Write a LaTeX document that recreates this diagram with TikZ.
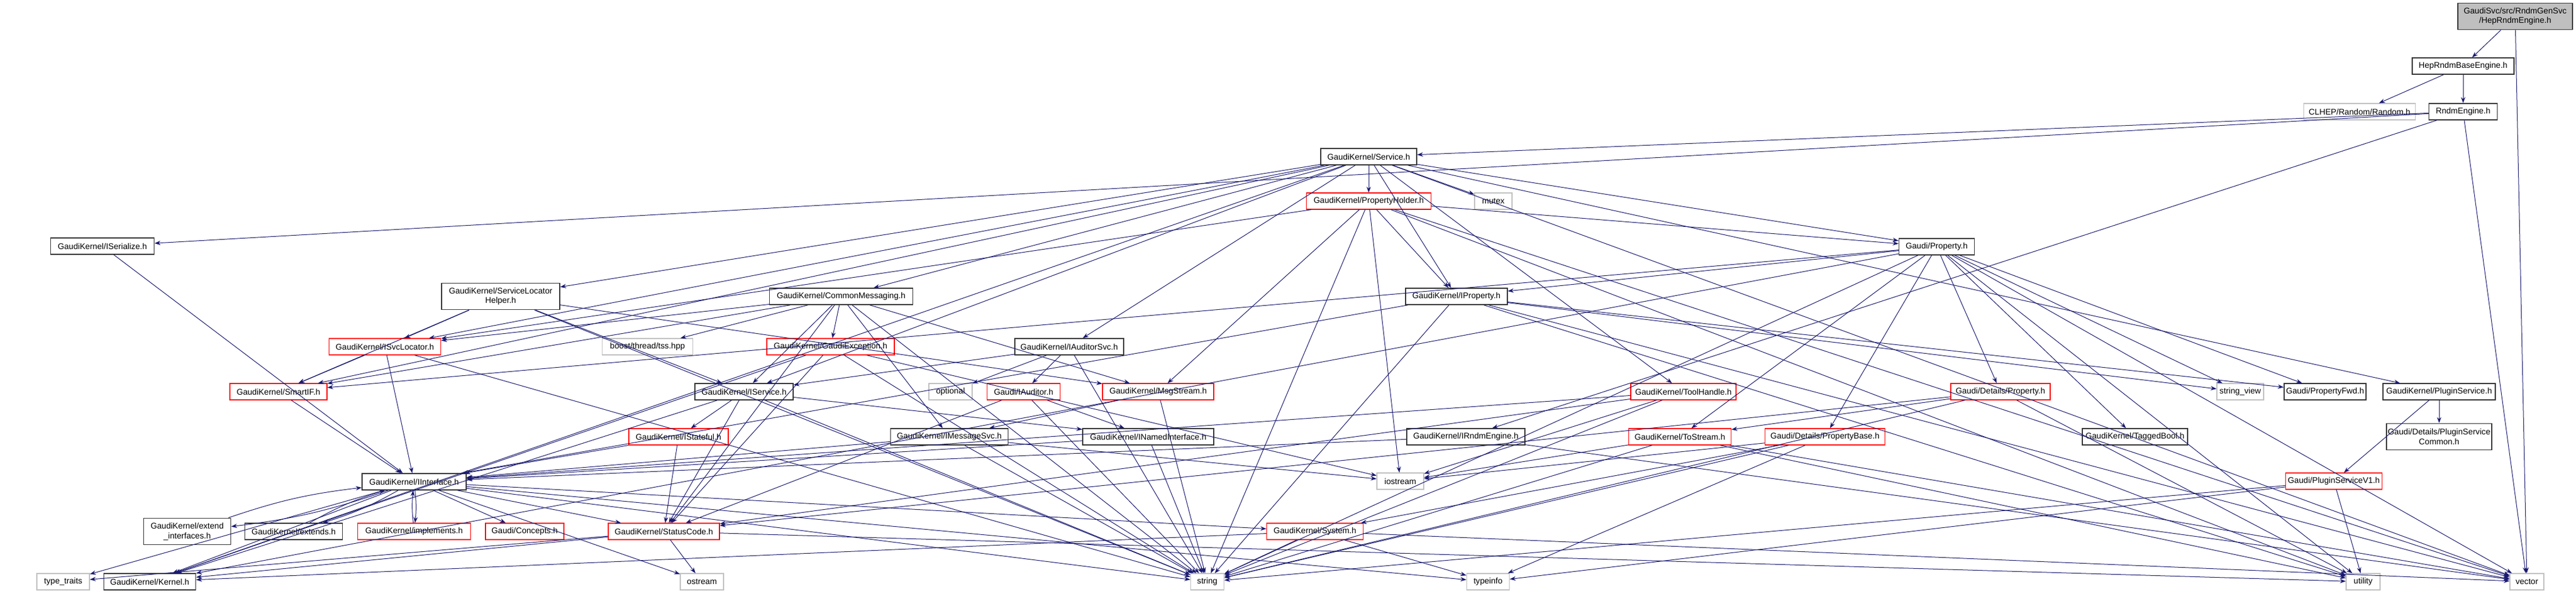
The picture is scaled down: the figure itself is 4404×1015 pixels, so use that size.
\documentclass[tikz,border=0pt]{standalone}
\usepackage{fontspec}
\setmainfont{Liberation Sans}
\usetikzlibrary{arrows.meta}
\definecolor{edgec}{HTML}{191970}
\definecolor{grayb}{HTML}{BFBFBF}
\definecolor{redb}{HTML}{FF0000}
\definecolor{rootf}{HTML}{BFBFBF}
\tikzset{
 nd/.style={draw=black!80, line width=1.1pt, fill=white, rectangle, inner sep=0pt, minimum height=21pt, font=\fontsize{10.6}{12.5}\selectfont, align=center},
 rd/.style={nd, draw=redb, line width=0.9pt},
 gy/.style={nd, draw=grayb, line width=0.9pt},
 bw/.style={minimum width=#1*0.75pt},
 two/.style={minimum height=34pt},
 edge/.style={draw=edgec, line width=0.75pt, -{Stealth[length=7.5pt,width=5.5pt]}},
}
\begin{document}
\begin{tikzpicture}[x=0.75pt,y=-0.75pt]
\useasboundingbox (0,0) rectangle (4404,1015);
% rank 0-3
\node[nd,two,bw=196,fill=rootf] (hep) at (4300,28) {GaudiSvc/src/RndmGenSvc\\/HepRndmEngine.h};
\node[nd,bw=174] (base) at (4211,113) {HepRndmBaseEngine.h};
\node[gy,bw=191] (clhep) at (4034,191) {CLHEP/Random/Random.h};
\node[nd,bw=117] (rndm) at (4211,191) {RndmEngine.h};
\node[nd,bw=164] (service) at (2340,268) {GaudiKernel/Service.h};
% rank 4-6
\node[rd,bw=213] (pholder) at (2340,344) {GaudiKernel/PropertyHolder.h};
\node[gy,bw=64] (mutex) at (2553,344) {mutex};
\node[nd,bw=129] (prop) at (3311,422) {Gaudi/Property.h};
\node[nd,bw=177] (iser) at (175,421) {GaudiKernel/ISerialize.h};
\node[nd,two,bw=202] (slh) at (856,507) {GaudiKernel/ServiceLocator\\Helper.h};
\node[nd,bw=245] (cmsg) at (1438,507) {GaudiKernel/CommonMessaging.h};
\node[nd,bw=174] (iprop) at (2490,507) {GaudiKernel/IProperty.h};
% rank 7
\node[rd,bw=191] (isvcloc) at (658,593) {GaudiKernel/ISvcLocator.h};
\node[gy,bw=155] (tss) at (1107,593) {boost/thread/tss.hpp};
\node[rd,bw=218] (gexc) at (1420,593) {GaudiKernel/GaudiException.h};
\node[nd,bw=186] (iaudsvc) at (1828,593) {GaudiKernel/IAuditorSvc.h};
% rank 8
\node[rd,bw=166] (smartif) at (476,670) {GaudiKernel/SmartIF.h};
\node[nd,bw=168] (iservice) at (1272,670) {GaudiKernel/IService.h};
\node[gy,bw=74] (optional) at (1625,670) {optional};
\node[rd,bw=125] (iauditor) at (1750,670) {Gaudi/IAuditor.h};
\node[rd,bw=190] (msgstream) at (1980,670) {GaudiKernel/MsgStream.h};
\node[rd,bw=180] (toolh) at (2878,670) {GaudiKernel/ToolHandle.h};
\node[rd,bw=170] (dprop) at (3420,670) {Gaudi/Details/Property.h};
\node[gy,bw=80] (strview) at (3830,670) {string\_view};
\node[nd,bw=140] (propfwd) at (3975,670) {Gaudi/PropertyFwd.h};
\node[nd,bw=192] (plugin) at (4170,670) {GaudiKernel/PluginService.h};
% rank 9
\node[rd,bw=170] (istateful) at (1160,747) {GaudiKernel/IStateful.h};
\node[nd,bw=201] (imsgsvc) at (1623,747) {GaudiKernel/IMessageSvc.h};
\node[nd,bw=224] (inamed) at (1963,747) {GaudiKernel/INamedInterface.h};
\node[nd,bw=202] (irndm) at (2506,747) {GaudiKernel/IRndmEngine.h};
\node[rd,bw=175] (tostream) at (2872,747) {GaudiKernel/ToStream.h};
\node[rd,bw=205] (pbase) at (3120,747) {Gaudi/Details/PropertyBase.h};
\node[nd,bw=180] (tagged) at (3650,747) {GaudiKernel/TaggedBool.h};
\node[nd,two,bw=180] (pscommon) at (4170,747) {Gaudi/Details/PluginService\\Common.h};
% rank 10
\node[nd,bw=178] (iinterface) at (708,824) {GaudiKernel/IInterface.h};
\node[gy,bw=80] (iostream) at (2394,823) {iostream};
\node[rd,bw=165] (psv1) at (3990,823) {Gaudi/PluginServiceV1.h};
% rank 11
\node[nd,two,bw=149] (extif) at (320,909) {GaudiKernel/extend\\\_interfaces.h};
\node[nd,bw=167] (extends) at (502,909) {GaudiKernel/extends.h};
\node[rd,bw=193] (implements) at (708,909) {GaudiKernel/implements.h};
\node[rd,bw=134] (concepts) at (897,909) {Gaudi/Concepts.h};
\node[rd,bw=190] (statuscode) at (1135,909) {GaudiKernel/StatusCode.h};
\node[rd,bw=165] (system) at (2248,909) {GaudiKernel/System.h};
% rank 12
\node[gy,bw=90] (typetraits) at (108,995) {type\_traits};
\node[nd,bw=157] (kernel) at (256,995) {GaudiKernel/Kernel.h};
\node[gy,bw=74] (ostream) at (1200,995) {ostream};
\node[gy,bw=57] (string) at (2064,995) {string};
\node[gy,bw=73] (typeinfo) at (2544,995) {typeinfo};
\node[gy,bw=58] (utility) at (4040,995) {utility};
\node[gy,bw=58] (vector) at (4320,995) {vector};
% edges
\foreach \a/\b in {hep/base,hep/vector,base/clhep,base/rndm,
 rndm/service,rndm/iser,rndm/irndm,rndm/vector,
 service/pholder,service/mutex,service/prop,service/iprop,service/cmsg,service/slh,service/isvcloc,service/smartif,service/iservice,service/iaudsvc,service/toolh,service/plugin,service/vector,service/kernel,
 pholder/prop,pholder/iprop,pholder/isvcloc,pholder/msgstream,pholder/string,pholder/iostream,pholder/utility,pholder/vector,
 iser/iinterface,
 prop/iprop,prop/smartif,prop/dprop,prop/pbase,prop/propfwd,prop/tagged,prop/tostream,prop/kernel,prop/string,prop/strview,prop/utility,prop/vector,
 iprop/iinterface,iprop/string,iprop/strview,iprop/utility,iprop/vector,iprop/propfwd,
 slh/isvcloc,slh/smartif,slh/msgstream,slh/iservice,slh/string,
 cmsg/isvcloc,cmsg/smartif,cmsg/tss,cmsg/gexc,cmsg/iservice,cmsg/imsgsvc,cmsg/msgstream,cmsg/string,cmsg/statuscode,
 isvcloc/smartif,isvcloc/iinterface,isvcloc/string,
 smartif/iinterface,
 gexc/kernel,gexc/statuscode,gexc/string,gexc/iostream,
 iaudsvc/iservice,iaudsvc/optional,iaudsvc/iauditor,iaudsvc/string,
 iservice/istateful,iservice/inamed,iservice/kernel,iservice/statuscode,iservice/string,
 iauditor/inamed,iauditor/string,iauditor/statuscode,
 msgstream/imsgsvc,msgstream/string,
 imsgsvc/iinterface,imsgsvc/iostream,imsgsvc/string,
 inamed/iinterface,inamed/string,
 irndm/iinterface,irndm/vector,
 istateful/iinterface,istateful/statuscode,
 toolh/iinterface,toolh/iostream,toolh/string,toolh/statuscode,
 tostream/iostream,tostream/string,tostream/vector,tostream/utility,
 dprop/tostream,dprop/string,dprop/utility,dprop/statuscode,
 pbase/iostream,pbase/string,pbase/typeinfo,pbase/system,
 plugin/pscommon,plugin/psv1,
 psv1/string,psv1/typeinfo,psv1/utility,
 iinterface/concepts,iinterface/statuscode,iinterface/kernel,iinterface/typetraits,iinterface/ostream,iinterface/system,iinterface/string,iinterface/typeinfo,
 statuscode/kernel,statuscode/ostream,statuscode/typetraits,statuscode/utility,
 system/kernel,system/string,system/typeinfo,system/vector}
 {\draw[edge] (\a) -- (\b);}
\foreach \a/\b in {iinterface/extif,iinterface/extends,iinterface/implements,extif/iinterface,extends/iinterface,implements/iinterface}
 {\draw[edge] (\a) to[bend left=6] (\b);}
\end{tikzpicture}
\end{document}
